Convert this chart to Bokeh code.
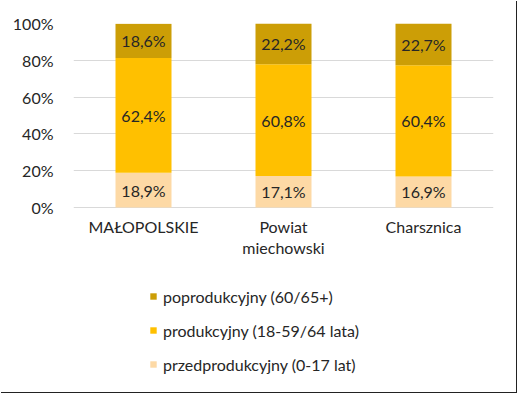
from bokeh.plotting import figure
from bokeh.models import ColumnDataSource, FactorRange, Range1d, Legend, LegendItem, NumeralTickFormatter, FixedTicker
from bokeh.embed import file_html
from bokeh.resources import INLINE
from bokeh.core.properties import value

categories = ["MAŁOPOLSKIE", "Powiat\nmiechowski", "Charsznica"]
przedprodukcyjny = [18.9, 17.1, 16.9]
produkcyjny = [62.4, 60.8, 60.4]
poprodukcyjny = [18.6, 22.2, 22.7]
series_names = ["przedprodukcyjny (0-17 lat)", "produkcyjny (18-59/64 lata)", "poprodukcyjny (60/65+)"]
colors = ["#FDD9A5", "#FFC000", "#CC9E06"]
y_ticks = [0, 0.2, 0.4, 0.6, 0.8, 1.0]

FONT = "Lato"
FS = "16px"
TXT = "#262626"

W, H = 516, 392
TOP, ZERO = 23, 207          # screen y of 100% and 0%
scale = ZERO - TOP
y_start = -(H - ZERO) / scale

vals = [przedprodukcyjny, produkcyjny, poprodukcyjny]
keys = ["s0", "s1", "s2"]
data = {"cat": categories}
for k, v in zip(keys, vals):
    data[k] = [x / 100.0 for x in v]
source = ColumnDataSource(data)

p = figure(x_range=FactorRange(*categories), y_range=Range1d(y_start, 1),
           width=W, height=H, output_backend="svg", toolbar_location=None,
           min_border_left=73, min_border_right=23, min_border_top=TOP, min_border_bottom=0)
p.outline_line_color = None
p.background_fill_color = "white"
p.border_fill_color = "white"
p.styles = {"box-shadow": "1px 1px 0 0 #222222"}

renderers = p.vbar_stack(keys, x="cat", width=0.4, color=colors, line_color=None, source=source)

# data labels
lx, ly, lt = [], [], []
for i, c in enumerate(categories):
    base = 0.0
    for v in vals:
        frac = v[i] / 100.0
        lx.append(c)
        ly.append(base + frac / 2)
        lt.append(("%.1f" % v[i]).replace(".", ",") + "%")
        base += frac
lsrc = ColumnDataSource(dict(x=lx, y=ly, t=lt))
p.text(x="x", y="y", text="t", source=lsrc, text_align="center", text_baseline="middle",
       text_font=value(FONT), text_font_size=FS, text_color=TXT)

# category labels (x axis)
csrc = ColumnDataSource(dict(x=categories, y=[0] * len(categories), t=categories))
p.text(x="x", y="y", text="t", source=csrc, text_align="center", text_baseline="top",
       y_offset=9, text_line_height=1.15,
       text_font=value(FONT), text_font_size=FS, text_color=TXT)

p.xaxis.visible = False
p.yaxis.ticker = FixedTicker(ticks=y_ticks)
p.yaxis.formatter = NumeralTickFormatter(format="0%")
ax = p.yaxis[0]
ax.axis_line_color = None
ax.major_tick_line_color = None
ax.minor_tick_line_color = None
ax.major_label_text_font = FONT
ax.major_label_text_font_size = FS
ax.major_label_text_color = TXT
ax.major_label_standoff = 14
p.xgrid.grid_line_color = None
p.ygrid.grid_line_color = "#D9D9D9"
p.ygrid.grid_line_width = 1

items = [LegendItem(label=series_names[i], renderers=[renderers[i]]) for i in [2, 1, 0]]
legend = Legend(items=items, location=(76, 18), orientation="vertical",
                glyph_width=8, glyph_height=8, label_height=20, spacing=14,
                label_standoff=6, padding=0, margin=0, border_line_color=None,
                background_fill_alpha=0,
                label_text_font=FONT, label_text_font_size=FS, label_text_color=TXT)
p.add_layout(legend, "center")

open("out.html", "w").write(file_html(p, INLINE))
